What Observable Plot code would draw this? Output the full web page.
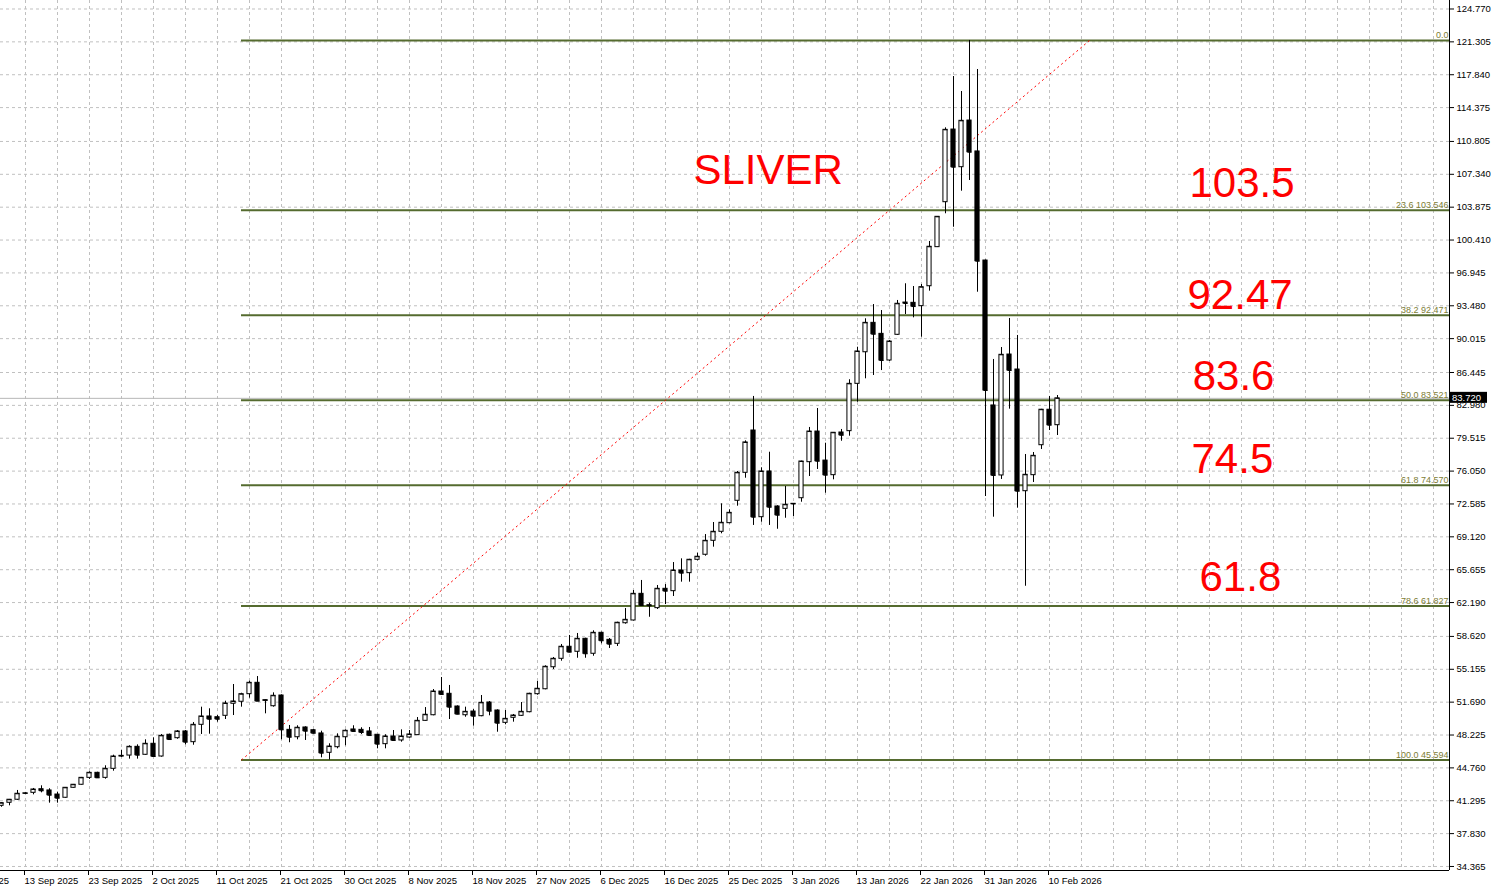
<!DOCTYPE html>
<html><head><meta charset="utf-8">
<script src="https://cdn.jsdelivr.net/npm/d3@7"></script>
<script src="https://cdn.jsdelivr.net/npm/@observablehq/plot@0.6"></script>
<style>html,body{margin:0;padding:0;background:#fff;overflow:hidden}</style>
</head><body><div id="chart"></div>
<script>
// ---- Daily candles (bar index 0..132) ----
const opens = [40.76,41.08,41.40,42.03,42.13,42.51,42.38,41.95,41.61,42.66,42.98,43.71,44.24,43.71,44.66,45.96,46.06,46.98,46.14,47.30,45.96,48.25,47.89,48.60,47.47,49.30,50.18,50.10,50.25,51.52,51.73,52.53,53.73,51.83,51.26,52.39,48.77,47.99,49.02,48.73,48.39,46.35,46.94,47.99,48.81,48.77,48.60,48.25,47.26,48.07,47.65,47.96,48.21,49.72,50.31,52.81,52.57,51.23,50.31,50.70,50.21,51.65,50.81,49.51,50.04,50.25,50.63,52.53,53.05,55.37,56.26,57.53,57.00,58.37,56.79,59.00,58.26,57.84,60.01,60.30,63.11,61.91,61.60,63.64,63.39,65.57,65.29,66.70,67.23,68.70,69.65,70.56,72.92,75.87,80.33,71.19,76.01,72.32,72.07,72.56,73.19,76.99,80.22,77.16,75.62,80.12,80.26,85.25,88.58,91.68,90.52,87.71,90.42,93.82,93.79,93.44,95.54,99.66,104.40,112.06,108.09,113.01,109.75,98.25,82.97,75.59,88.34,86.76,73.93,75.62,78.78,82.52,80.89];
const highs = [41.11,41.43,42.38,42.17,42.59,42.87,42.56,42.20,42.69,43.01,43.75,44.35,44.30,44.98,46.10,46.62,47.09,47.19,47.72,47.93,48.28,48.32,48.70,48.70,49.54,51.16,50.99,50.28,51.79,53.55,52.63,53.90,54.39,51.94,52.67,52.46,49.23,49.20,49.09,48.81,48.63,47.30,48.35,48.77,49.20,48.99,49.02,48.28,48.25,48.70,48.77,48.70,50.07,51.12,53.02,54.29,53.45,51.30,51.16,50.91,52.39,51.76,50.88,50.81,50.39,51.65,52.63,53.87,55.52,56.40,57.77,58.72,58.93,58.43,59.21,59.07,58.40,60.12,61.56,63.46,64.52,62.12,63.99,64.09,66.41,66.80,66.75,67.39,69.36,70.63,72.60,71.97,76.01,79.24,83.92,76.40,78.04,72.40,74.43,72.62,77.10,80.65,82.65,78.99,80.12,80.44,85.68,89.11,92.11,93.61,92.98,89.82,94.04,95.80,95.51,95.72,100.26,102.89,112.24,117.65,116.07,121.45,118.39,98.30,87.82,89.08,92.14,90.35,77.80,78.01,82.56,83.92,84.02];
const lows = [40.61,40.76,41.32,41.95,41.92,42.13,41.04,41.04,41.56,42.62,42.94,43.54,43.64,43.57,44.41,45.85,45.68,45.68,46.08,45.89,45.89,47.65,47.78,47.19,47.15,48.28,48.31,49.58,49.86,50.28,51.16,52.11,51.76,50.46,51.16,47.72,47.41,47.72,47.65,48.35,45.82,45.59,46.77,47.09,48.52,48.28,48.07,46.77,46.77,47.54,47.47,47.89,48.17,49.68,50.25,52.42,49.86,50.36,50.10,49.16,50.15,50.25,48.52,49.30,49.58,50.18,50.57,52.42,52.99,55.13,56.01,56.89,56.32,56.32,56.53,57.84,57.35,57.56,59.91,60.25,61.81,60.64,61.46,61.98,62.83,64.34,64.34,66.59,67.08,68.03,69.44,70.49,72.35,75.30,70.32,70.66,70.32,69.92,71.08,71.26,72.77,75.48,76.22,73.72,75.13,79.20,79.73,83.31,85.78,86.13,86.65,87.61,90.35,92.56,92.21,90.17,95.02,99.62,103.18,101.76,105.56,106.69,94.91,73.37,71.19,75.17,82.58,72.14,63.91,74.85,78.33,80.33,79.80];
const closes = [41.04,41.40,42.03,42.08,42.48,42.34,41.88,41.56,42.66,42.98,43.71,44.24,43.71,44.66,45.96,46.03,46.98,46.10,47.30,45.96,48.14,47.75,48.60,47.47,49.30,50.18,49.89,49.89,51.55,51.76,52.53,53.73,51.79,51.90,52.36,48.77,47.99,48.99,48.63,48.41,46.31,47.01,48.04,48.67,48.60,48.49,48.17,47.26,48.07,47.65,48.07,48.28,49.72,50.36,52.81,52.50,51.16,50.42,50.67,50.21,51.62,50.74,49.47,49.93,50.28,50.67,52.57,53.10,55.42,56.26,57.53,56.96,58.37,56.79,59.00,58.16,57.80,60.06,60.37,63.11,61.88,61.85,63.64,63.39,65.57,65.29,66.70,67.02,68.70,69.65,70.60,71.65,75.87,79.07,71.19,76.01,72.24,71.40,72.50,72.60,77.06,80.22,77.09,75.62,80.09,79.83,85.25,88.66,91.68,90.48,87.71,89.71,93.69,93.72,93.40,95.44,99.70,102.86,112.03,108.09,112.98,109.67,98.18,84.55,75.59,88.31,86.66,73.93,75.66,77.66,82.52,80.89,83.72];

// ---- Axis ticks ----
const yTicks = [124.770,121.305,117.840,114.375,110.805,107.340,103.875,100.410,96.945,93.480,90.015,86.445,82.980,79.515,76.050,72.585,69.120,65.655,62.190,58.620,55.155,51.690,48.225,44.760,41.295,37.830,34.365];
const dateTickBars = [-5,3,11,19,27,35,43,51,59,67,75,83,91,99,107,115,123,131];
const dateTickLabels = ["3 Sep 2025","13 Sep 2025","23 Sep 2025","2 Oct 2025","11 Oct 2025","21 Oct 2025","30 Oct 2025","8 Nov 2025","18 Nov 2025","27 Nov 2025","6 Dec 2025","16 Dec 2025","25 Dec 2025","3 Jan 2026","13 Jan 2026","22 Jan 2026","31 Jan 2026","10 Feb 2026"];

// ---- Fibonacci retracement ----
const fibLevels = [0, 23.6, 38.2, 50.0, 61.8, 78.6, 100.0];
const fibPrices = [121.448, 103.546, 92.471, 83.521, 74.570, 61.827, 45.594];
const fibStartBar = 30;
const trendBars = [30, 136];
const trendPrices = [45.594, 121.448];
const bidPrice = 83.720;

// ---- Text annotations ----
const noteTexts = ["SLIVER", "103.5", "92.47", "83.6", "74.5", "61.8"];
const noteBars = [86.5, 148.5, 148.25, 148.9, 148.75, 149.75];
const notePrices = [106.35, 105.00, 93.09, 84.60, 75.80, 63.36];

// ---- Build ----
const candles = opens.map((o, i) => ({i, open: o, high: highs[i], low: lows[i], close: closes[i]}));
const fib = fibLevels.map((l, k) => ({price: fibPrices[k], label: l === 0 ? "0.0" : `${l.toFixed(1)} ${fibPrices[k].toFixed(3)}`}));
const notes = noteTexts.map((t, k) => ({t, bar: noteBars[k], price: notePrices[k]}));
const trend = [{b1: trendBars[0], p1: trendPrices[0], b2: trendBars[1], p2: trendPrices[1]}];
const labelMap = new Map(dateTickBars.map((b, k) => [b, dateTickLabels[k]]));
const xMin = -0.125, xMax = 181, yMin = 33.941, yMax = 125.665;
const grid = {stroke: "#c0c0c0", strokeOpacity: 1, strokeDasharray: "3,3"};
const hw = 0.26;

const chart = Plot.plot({
  width: 1492, height: 891,
  marginTop: 0, marginRight: 43, marginBottom: 21, marginLeft: 0,
  x: {domain: [xMin, xMax]},
  y: {domain: [yMin, yMax]},
  style: {fontFamily: "'Liberation Sans', Arial, sans-serif", fontSize: "9.5px", color: "black", background: "white"},
  marks: [
    Plot.gridY({ticks: yTicks, ...grid}),
    Plot.gridX({ticks: d3.range(3, xMax, 4), ...grid}),
    Plot.ruleY([bidPrice], {stroke: "#b8b8b8"}),
    Plot.ruleY(fib, {y: "price", x1: fibStartBar, x2: xMax, stroke: "#556B2F", strokeWidth: 2}),
    Plot.text(fib, {x: xMax, y: "price", text: "label", textAnchor: "end", lineAnchor: "bottom", dx: -1, dy: -2, fill: "#7d7d35", fontSize: 9}),
    Plot.link(trend, {x1: "b1", y1: "p1", x2: "b2", y2: "p2", stroke: "red", strokeDasharray: "2,3"}),
    Plot.ruleX(candles, {x: "i", y1: "low", y2: "high", stroke: "black"}),
    Plot.rect(candles, {x1: d => d.i - hw, x2: d => d.i + hw, y1: "open", y2: "close",
      fill: d => d.close >= d.open ? "white" : "black", stroke: "black"}),
    Plot.link(candles, {x1: d => d.i - hw, x2: d => d.i + hw, y1: "close", y2: "close", stroke: "black"}),
    Plot.text(notes, {x: "bar", y: "price", text: "t", textAnchor: "start", lineAnchor: "bottom",
      fill: "#ff0000", fontSize: 42, fontFamily: "'Liberation Sans', Arial, sans-serif"}),
    Plot.ruleX([xMax], {stroke: "black"}),
    Plot.ruleY([yMin], {stroke: "black"}),
    Plot.axisY({anchor: "right", ticks: yTicks, tickFormat: d => d.toFixed(3), tickSize: 4, tickPadding: 3, label: null}),
    Plot.axisX({anchor: "bottom", ticks: dateTickBars, tickFormat: d => labelMap.get(d), tickSize: 5, tickPadding: 2,
      textAnchor: "start", dx: -1, label: null})
  ]
});

// bid price tag on the right axis
const sx = chart.scale("x"), sy = chart.scale("y");
const xb = sx.apply(xMax), yb = sy.apply(bidPrice);
const g = d3.select(chart).append("g");
g.append("rect").attr("x", xb + 1).attr("y", yb - 6).attr("width", 37).attr("height", 11).attr("fill", "black");
g.append("text").attr("x", xb + 3).attr("y", yb).attr("dy", "0.35em").attr("fill", "white")
  .attr("text-anchor", "start").attr("font-size", "9.5px").text(bidPrice.toFixed(3));

document.getElementById("chart").appendChild(chart);
</script>
</body></html>
